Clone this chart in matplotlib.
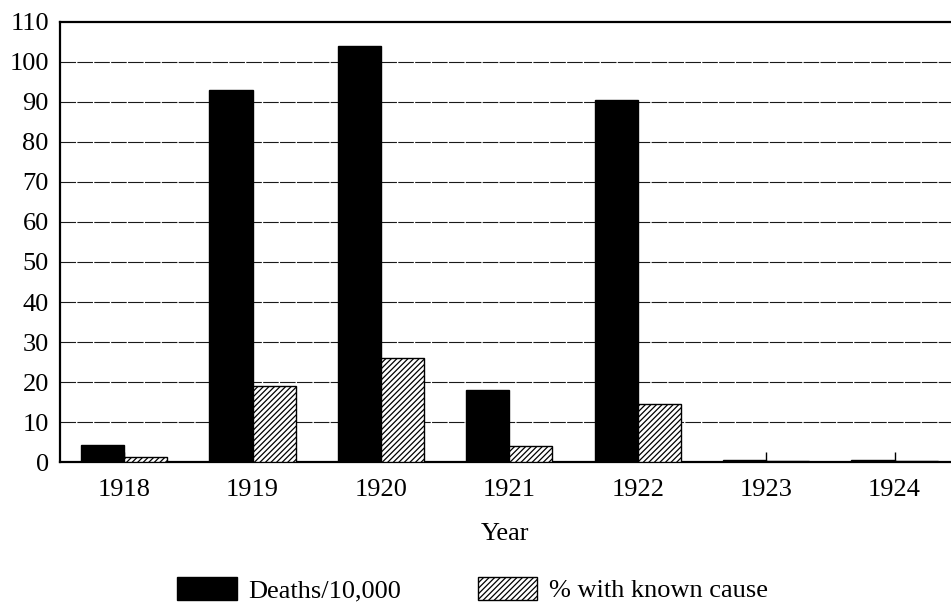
import numpy as np
import matplotlib
matplotlib.use("Agg")
import matplotlib.pyplot as plt
from matplotlib.patches import Patch

# values
years = ["1918", "1919", "1920", "1921", "1922", "1923", "1924"]
deaths = [4.2, 93, 104, 18, 90.5, 0.6, 0.6]
known_cause = [1.3, 19, 26, 4, 14.5, 0.3, 0.3]
y_ticks = list(range(0, 111, 10))

plt.rcParams["font.family"] = ["Liberation Serif", "DejaVu Serif"]
plt.rcParams["hatch.linewidth"] = 0.9

fig = plt.figure(figsize=(9.51, 6.08), dpi=100)
ax = fig.add_axes([0.063, 0.24, 0.937, 0.724])

x = np.arange(len(years))
w = 0.335
ax.bar(x - w / 2, deaths, w, color="black", edgecolor="black", linewidth=1, zorder=3)
ax.bar(x + w / 2, known_cause, w, color="white", edgecolor="black", hatch="//////",
       linewidth=1, zorder=3)

ax.set_xlim(-0.5, 6.44)
ax.set_ylim(0, 110)
ax.set_yticks(y_ticks)
ax.set_xticks(x)
ax.set_xticklabels(years, fontsize=19)
ax.tick_params(axis="y", length=0, labelsize=19, pad=8)
ax.tick_params(axis="x", direction="in", length=7, width=1, pad=12)

# gridlines are near-solid, slightly broken rules
for y in y_ticks[1:-1]:
    ax.axhline(y, color="#1a1a1a", lw=0.8, ls=(0, (14, 1.2)), zorder=1)

for s in ["left", "bottom", "top"]:
    ax.spines[s].set_linewidth(1.6)
ax.spines["right"].set_visible(False)

ax.set_xlabel("Year", fontsize=19, labelpad=16)

handles = [Patch(facecolor="black", edgecolor="black", label="Deaths/10,000"),
           Patch(facecolor="white", edgecolor="black", hatch="//////", label="% with known cause")]
fig.legend(handles=handles, loc="lower center", bbox_to_anchor=(0.497, -0.03), ncol=2,
           frameon=False, fontsize=19, handlelength=2.25, handleheight=0.95,
           columnspacing=2.9, handletextpad=0.45)

fig.savefig("out.png", dpi=100)
